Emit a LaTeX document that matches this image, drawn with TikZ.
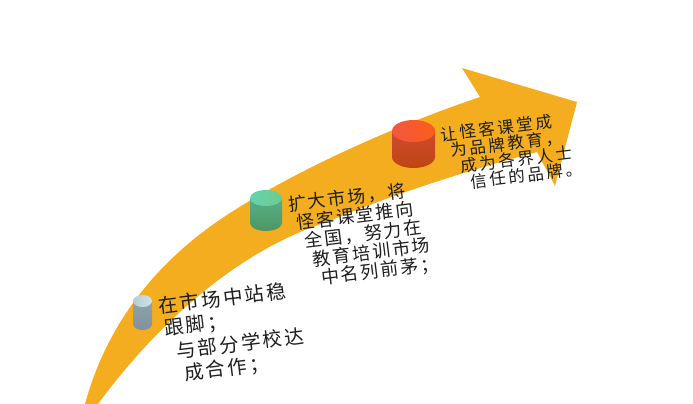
\documentclass[tikz,border=0pt]{standalone}
\usepackage{fontspec}
\setmainfont{Noto Sans CJK SC}
\definecolor{arrowfill}{RGB}{245,173,32}
\definecolor{topA}{RGB}{205,228,236}
\definecolor{sideA}{RGB}{170,186,194}
\definecolor{bodyA}{RGB}{128,146,156}
\definecolor{topB}{RGB}{108,204,140}
\definecolor{sideB}{RGB}{100,214,196}
\definecolor{bodyB}{RGB}{78,150,98}
\definecolor{topC}{RGB}{250,95,25}
\definecolor{sideC}{RGB}{238,80,90}
\definecolor{bodyC}{RGB}{190,70,18}
\definecolor{txt}{RGB}{30,30,30}

\begin{document}
\begin{tikzpicture}[x=1pt,y=-1pt,
  lbl/.style={anchor=north west,inner sep=0pt,rotate=7,text=txt}]
  \useasboundingbox (0,0) rectangle (693,404);
  % curved arrow
  \fill[arrowfill] (85,404) .. controls (108,320) and (160,258) .. (230,213)
    .. controls (297,170) and (394,126) .. (480,97)
    -- (462,68) -- (577,102) -- (555,186) -- (537,152)
    .. controls (469,170) and (391,195) .. (327,222)
    .. controls (240,250) and (160,320) .. (98,404) -- cycle;
  % drums on the arrow
  \foreach \cx/\cy/\rx/\ry/\h/\c in {142.5/301/9.5/6/23/A,266/198/16/8/25/B,413.5/131/21.5/11/26/C} {
    \shade[top color=side\c!40!body\c,bottom color=body\c]
      ({\cx-\rx},\cy) -- ({\cx-\rx},{\cy+\h})
      arc[start angle=180,end angle=360,x radius=\rx pt,y radius=\ry pt]
      -- ({\cx+\rx},\cy) -- cycle;
    \shade[left color=side\c!60!top\c,right color=top\c]
      (\cx,\cy) ellipse[x radius=\rx pt,y radius=\ry pt];
  }
  % texts
  \foreach \t/\x/\y [count=\i] in {在市场中站稳/157/297,跟脚；/163/319,
      与部分学校达/175/342,成合作；/183/364} {
    \node[lbl,font=\fontsize{19.5}{20}\selectfont\addfontfeatures{LetterSpace=12}]
      (stepA\i) at (\x,\y) {\t};
  }
  \foreach \t [count=\i from 0] in {扩大市场，将,怪客课堂推向,全国，努力在,
      教育培训市场,中名列前茅；} {
    \node[lbl,font=\fontsize{18}{18}\selectfont\addfontfeatures{LetterSpace=11}]
      (stepB\i) at ({287+8.25*\i},{196+18.25*\i}) {\t};
  }
  \foreach \t [count=\i from 0] in {让怪客课堂成,为品牌教育，,成为各界人士,信任的品牌。} {
    \node[lbl,font=\fontsize{16.5}{17}\selectfont\addfontfeatures{LetterSpace=15}]
      (stepC\i) at ({440+10*\i},{127+15.7*\i}) {\t};
  }
\end{tikzpicture}
\end{document}
